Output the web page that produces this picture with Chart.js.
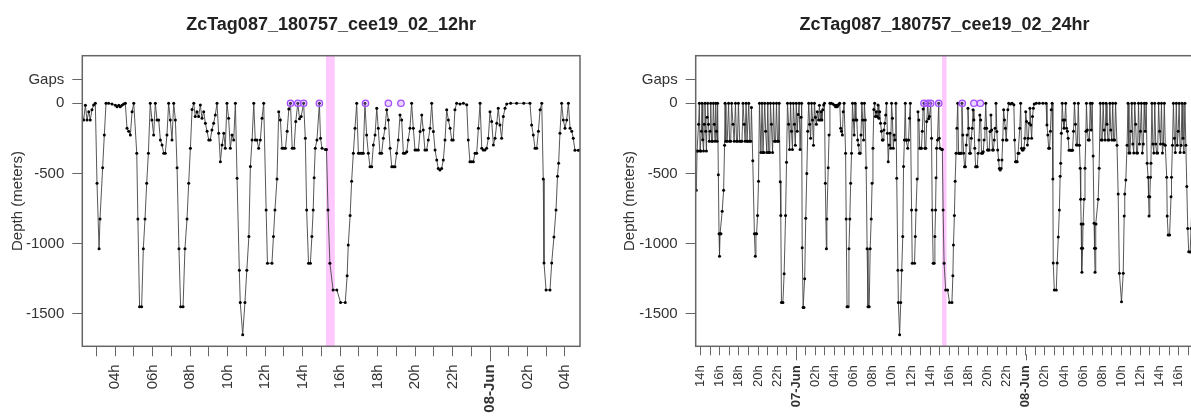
<!DOCTYPE html>
<html>
<head>
<meta charset="utf-8">
<script src="https://cdn.jsdelivr.net/npm/chart.js"></script>
<style>
  html, body { margin: 0; padding: 0; background: #fff; }
  #wrap { position: relative; width: 1191px; height: 418px; overflow: hidden; }
  #wrap canvas { position: absolute; top: 0; }
</style>
</head>
<body>
<div id="wrap">
  <canvas id="chart12" width="595" height="418" style="left:0"></canvas>
  <canvas id="chart24" width="610" height="418" style="left:595px"></canvas>
</div>
<script>
// hours since 07-Jun 00:00, depth in meters
const diveHours = [
  -10.45, -10.38, -10.30, -10.22, -10.14, -10.06, -9.98, -9.92, -9.86, -9.78, -9.70, -9.62, -9.55, -9.47, -9.40,
  -9.33, -9.27, -9.18, -9.10, -9.02, -8.95, -8.86, -8.76, -8.67, -8.58, -8.50, -8.43, -8.35, -8.28, -8.23,
  -8.15, -8.08, -8.03, -7.97, -7.88, -7.75, -7.60, -7.50, -7.45, -7.36, -7.22, -7.08, -6.98, -6.86, -6.76,
  -6.62, -6.50, -6.36, -6.25, -6.15, -6.05, -5.92, -5.80, -5.68, -5.57, -5.45, -5.35, -5.25, -5.15, -5.05,
  -4.97, -4.86, -4.76, -4.69, -4.55, -4.38, -4.29, -4.22, -4.15, -4.05, -3.95, -3.85, -3.70, -3.58, -3.48,
  -3.38, -3.30, -3.20, -3.08, -2.98, -2.88, -2.78, -2.70, -2.60, -2.48, -2.38, -2.28, -2.17, -2.07, -1.96,
  -1.86, -1.79, -1.68, -1.62, -1.55, -1.40, -1.27, -1.12, -1.02, -0.92, -0.80, -0.70, -0.60, -0.50, -0.40,
  -0.30, -0.20, -0.10, 0.00, 0.10, 0.20, 0.30, 0.40, 0.50, 0.56, 0.62, 0.72, 0.80, 0.88, 0.99,
  1.10, 1.20, 1.30, 1.40, 1.50, 1.60, 1.70, 1.80, 1.90, 2.00, 2.10, 2.20,
  2.33, 2.42, 2.51, 2.60, 2.68, 2.77, 2.86, 2.95, 3.04, 3.15, 3.20, 3.34, 3.43, 3.52, 3.66,
  3.84, 4.02, 4.11, 4.20, 4.28, 4.37, 4.46, 4.55, 4.64, 4.73, 4.82, 4.91, 5.00, 5.16, 5.22,
  5.31, 5.42, 5.51, 5.60, 5.69, 5.78, 5.88, 5.97, 6.06, 6.15, 6.24, 6.33, 6.42, 6.51, 6.60,
  6.68, 6.77, 6.86, 6.95, 7.04, 7.13, 7.22, 7.31, 7.41, 7.50, 7.63, 7.73, 7.84, 7.93, 8.02,
  8.11, 8.20, 8.28, 8.37, 8.46, 8.55, 8.64, 8.73, 8.82, 8.91, 9.00, 9.08, 9.17, 9.26, 9.35,
  9.44, 9.53, 9.62, 9.71, 9.80, 9.88, 9.97, 10.06, 10.15, 10.24, 10.33, 10.42, 10.51, 10.63, 10.68,
  10.81, 10.93, 11.03, 11.14, 11.22, 11.31, 11.40, 11.48, 11.57, 11.66, 11.75, 11.84, 11.93, 12.06, 12.13,
  12.37, 12.45, 12.53, 12.64, 12.73, 12.82, 12.91, 13.00, 13.09, 13.18, 13.27, 13.36, 13.45, 13.55, 13.64,
  13.75, 13.84, 13.93, 14.06, 14.15, 14.22, 14.32, 14.42, 14.50, 14.57, 14.62, 14.68, 14.77, 14.90, 14.96,
  15.04, 15.22, 15.28, 15.36, 15.46, 15.63, 15.83, 16.03, 16.28, 16.38, 16.44, 16.54, 16.62, 16.71, 16.80,
  16.89, 16.98, 17.07, 17.16, 17.24, 17.33, 17.42, 17.51, 17.60, 17.69, 17.78, 17.87, 17.96, 18.04, 18.13,
  18.22, 18.31, 18.40, 18.49, 18.58, 18.67, 18.76, 18.84, 18.93, 19.02, 19.11, 19.20, 19.29, 19.38, 19.47,
  19.56, 19.64, 19.73, 19.82, 19.91, 20.00, 20.09, 20.18, 20.27, 20.36, 20.44, 20.53, 20.62, 20.71, 20.80,
  20.89, 20.98, 21.07, 21.16, 21.24, 21.33, 21.42, 21.51, 21.60, 21.69, 21.78, 21.87, 21.96, 22.04, 22.13,
  22.22, 22.40, 22.58, 22.76, 22.84, 22.93, 23.02, 23.11, 23.20, 23.29, 23.38, 23.47, 23.56, 23.64, 23.73,
  23.82, 23.91, 24.00, 24.09, 24.18, 24.27, 24.36, 24.44, 24.53, 24.62, 24.71, 24.80, 24.89, 25.10, 25.42,
  25.80, 26.13, 26.22, 26.31, 26.40, 26.49, 26.58, 26.67, 26.76, 26.84, 26.88, 26.99, 27.20, 27.29, 27.41,
  27.52, 27.60, 27.66, 27.73, 27.82, 27.91, 28.00, 28.09, 28.18, 28.27, 28.36, 28.44, 28.53, 28.71, 28.80,
  28.90, 29.00, 29.10, 29.20, 29.30, 29.40, 29.50, 29.62, 29.70, 29.75, 29.80, 29.83, 29.88, 29.95, 30.00,
  30.10, 30.20, 30.30, 30.35, 30.45, 30.55, 30.65, 30.75, 30.85, 30.95, 31.05, 31.15, 31.20, 31.25, 31.30,
  31.35, 31.58, 31.68, 31.80, 31.90, 32.00, 32.10, 32.20, 32.30, 32.40, 32.50, 32.60, 32.70, 32.80, 32.90,
  33.00, 33.10, 33.20, 33.30, 33.40, 33.55, 33.67, 33.80, 34.02, 34.20, 34.30, 34.36, 34.47, 34.60, 34.70,
  34.80, 34.90, 35.00, 35.10, 35.20, 35.30, 35.40, 35.50, 35.60, 35.70, 35.80, 35.90, 36.00, 36.10, 36.20,
  36.30, 36.40, 36.50, 36.60, 36.70, 36.80, 36.85, 36.90, 36.98, 37.05, 37.10, 37.20, 37.30, 37.40, 37.50,
  37.60, 37.70, 37.80, 37.90, 38.00, 38.10, 38.20, 38.30, 38.40, 38.50, 38.60, 38.75, 38.80, 38.90, 39.05,
  39.20, 39.25, 39.35, 39.45, 39.55, 39.65, 39.75, 39.85, 39.95, 40.05, 40.15, 40.25, 40.35, 40.45, 40.55,
  40.65, 40.75, 40.85, 40.95, 41.05, 41.20, 41.30, 41.45, 41.60
];
const diveDepth = [
  -620, -340, -340, -150, 0, -340, -340, -200, 0, -260, -340, -150, 0, -200, -340,
  -100, 0, -150, -270, -200, 0, -270, -270, 0, -150, -270, 0, -200, -270, 0,
  -510, -930, -1090, -930, -930, -770, -620, -300, 0, -270, -270, 0, -270, -270, 0,
  -150, -270, 0, -270, -270, 0, -270, -270, -270, 0, -150, -270, 0, -270, -270,
  0, -270, -270, -30, -410, -930, -1090, -930, -930, -800, -555, 0, -350, 0, -350,
  -350, 0, -200, -350, 0, -350, -350, 0, -150, -350, 0, -270, -270, 0, -270,
  -270, 0, -560, -800, -1420, -1420, -1215, -800, -420, 0, -150, -330, 0, -200, -330,
  0, -150, -300, 0, -200, -80, 0, -330, -100, 0, -1030, -1455, -1455, -1250, -820,
  -500, -200, 0, -150, -250, 0, -120, -300, 0, -100, -150, -60,
  -119, -15, -119, -60, -119, -47, -12, 0, -570, -1036, -825, -460, -226, 0, 0,
  -5, -15, -25, -15, -25, -15, -5, 0, -178, -200, -226, -60, 0, -357, -825,
  -1450, -1450, -1036, -825, -570, -357, 0, -119, -226, 0, -119, -119, -262, -297, -357,
  -357, -226, 0, -119, -262, 0, -119, -460, -1036, -1450, -1450, -1036, -825, -570, -321,
  -45, 0, -95, -60, -95, -12, -107, -60, -143, -200, -262, -262, -190, -143, -83,
  0, -214, -416, -297, -214, -321, 0, -107, -321, -226, -262, 0, -535, -1190, -1420,
  -1650, -1420, -1190, -950, -450, -262, 0, -262, -262, -321, -262, -107, 0, -760, -1140,
  -1140, -950, -760, -540, -60, -120, -321, -321, -321, -200, -40, 0, -321, -321, -130,
  0, -110, -95, 0, -250, -760, -1140, -1140, -950, -760, -530, -321, -262, 0, -250,
  -321, -330, -330, -760, -1140, -1330, -1330, -1420, -1420, -1230, -1010, -800, -556, -357, -178,
  0, -357, -357, -357, -357, 0, -226, -357, -452, -452, -297, -226, -35, -178, -357,
  -357, -250, -178, -47, -119, -321, -452, -452, -452, -357, -262, -83, -119, -357, -357,
  -345, -262, -178, 0, -178, -333, -333, -333, -202, -83, -190, -333, -333, -262, -178,
  0, -202, -333, -405, -464, -476, -464, -405, -262, -47, -119, -178, -262, -262, -47,
  0, -5, 0, -10, -262, -416, -416, -416, -357, -357, -178, 0, -321, -333, -333,
  -321, -250, -60, -130, -297, -250, -143, -35, -155, -250, -95, -35, -5, 0, 0,
  0, 0, -154, -226, -321, -321, -200, -47, 0, -540, -1138, -1330, -1330, -1138, -953,
  -760, -520, -428, -214, 0, -119, -178, -119, 0, -178, -200, -250, -335, -335, -335,
  -335, -200, 0, -150, -297, -297, 0, -300, -463, -684, -860, -1034, -1205, -1034, -860,
  -684, -463, -200, 0, -190, -262, -262, 0, -190, 0, -376, -855, -1034, -1205, -1034,
  -860, -684, -463, 0, -262, -262, 0, -190, -262, 0, -150, -262, -262, 0, -190,
  -262, 0, -262, -262, 0, -300, -646, -1212, -1414, -1212, -803, -646, -547, -300, 0,
  -355, -355, -200, 0, -290, -355, 0, -150, -355, -355, 0, -290, -200, 0, -355,
  -290, 0, -200, 0, -428, -527, -666, -803, -666, -527, -428, 0, -290, -355, 0,
  -290, -355, -355, 0, -200, -290, 0, -355, -290, 0, -300, -527, -803, -939, -939,
  -666, -527, -300, 0, -250, -350, 0, -300, -200, 0, -350, -300, 0, -250, -350,
  0, -300, -594, -893, -1058, -1060, -893, -594, -300
];
const gapHours = [13.36, 13.75, 14.06, 14.9, 17.36, 18.58, 19.25];
const gapLevel = 170;
const shadeHours = [15.25, 15.72];
const yTickValues = [-1500, -1000, -500, 0, gapLevel];
const dayLabels = ['06-Jun', '07-Jun', '08-Jun'];

const FONT = "'Liberation Sans', Arial, Helvetica, sans-serif";

const overlayPlugin = {
  id: 'overlay',
  beforeDatasetsDraw(chart) {
    const { ctx, chartArea: a, scales: { x } } = chart;
    const x0 = Math.max(x.getPixelForValue(shadeHours[0]), a.left);
    const x1 = Math.min(x.getPixelForValue(shadeHours[1]), a.right);
    ctx.save();
    ctx.fillStyle = '#ffc8ff';
    ctx.fillRect(x0, a.top, x1 - x0, a.bottom - a.top);
    ctx.restore();
  },
  afterDraw(chart) {
    const { ctx, chartArea: a, scales: { x } } = chart;
    const tl = x.options.grid.tickLength;
    ctx.save();
    ctx.strokeStyle = '#666';
    ctx.lineWidth = 1.5;
    ctx.strokeRect(a.left, a.top, a.right - a.left, a.bottom - a.top);
    // day boundaries get a longer tick
    ctx.lineWidth = 1;
    x.ticks.forEach(t => {
      if (t.value % 24 !== 0) return;
      const px = Math.round(x.getPixelForValue(t.value)) + 0.5;
      ctx.beginPath();
      ctx.moveTo(px, a.bottom + tl - 1);
      ctx.lineTo(px, a.bottom + tl + 5);
      ctx.stroke();
    });
    ctx.restore();
  }
};

function hourLabel(v) {
  const hr = ((v % 24) + 24) % 24;
  if (hr === 0) return dayLabels[Math.round(v / 24) + 1];
  return hr % 2 === 0 ? String(hr).padStart(2, '0') + 'h' : '';
}

function makeChart(id, opt) {
  const points = diveHours.map((h, i) => ({ x: h, y: diveDepth[i] }));
  const gaps = gapHours.map(h => ({ x: h, y: 0 }));
  return new Chart(document.getElementById(id), {
    type: 'line',
    data: {
      datasets: [
        {
          data: gaps,
          showLine: false,
          pointRadius: 3.2,
          pointBorderWidth: 1.3,
          pointBorderColor: '#a64dff',
          pointBackgroundColor: 'rgba(190,140,255,0.35)'
        },
        {
          data: points,
          borderColor: '#444',
          borderWidth: 0.9,
          pointRadius: 1.5,
          pointBorderWidth: 0,
          pointBackgroundColor: '#000',
          tension: 0
        }
      ]
    },
    options: {
      responsive: false,
      animation: false,
      devicePixelRatio: 1,
      layout: { padding: { left: 0, right: opt.padRight, top: 0, bottom: 0 } },
      plugins: {
        legend: { display: false },
        tooltip: { enabled: false },
        title: {
          display: true,
          text: opt.title,
          fullSize: false,
          color: '#222',
          font: { family: FONT, size: 18, weight: 'bold' },
          padding: { top: 14, bottom: 20.1 }
        }
      },
      scales: {
        x: {
          type: 'linear',
          min: opt.xMin,
          max: opt.xMax,
          afterBuildTicks(scale) {
            const t = [];
            for (let h = Math.ceil(scale.min); h <= scale.max; h++) t.push({ value: h });
            scale.ticks = t;
          },
          afterFit(scale) {
            scale.height = 418 - 346.3;
            scale.paddingLeft = 0;
            scale.paddingRight = 0;
          },
          grid: { drawOnChartArea: false, drawTicks: true, tickLength: opt.tickLen, color: '#666', tickColor: '#666' },
          border: { display: false },
          ticks: {
            autoSkip: false,
            maxRotation: 90,
            minRotation: 90,
            padding: opt.xPad,
            color: '#333',
            font: (ctx) => ({
              family: FONT,
              size: opt.xFont,
              weight: ctx.tick && ctx.tick.value % 24 === 0 ? 'bold' : 'normal'
            }),
            callback: (v) => hourLabel(v)
          }
        },
        y: {
          type: 'linear',
          min: -1732,
          max: 339,
          afterBuildTicks(scale) { scale.ticks = yTickValues.map(v => ({ value: v })); },
          afterFit(scale) { scale.width = opt.yWidth; },
          grid: { drawOnChartArea: false, drawTicks: true, tickLength: 10, color: '#666', tickColor: '#666' },
          border: { display: false },
          ticks: {
            padding: 8,
            color: '#333',
            font: { family: FONT, size: 15 },
            callback: (v) => v === gapLevel ? 'Gaps' : String(v)
          },
          title: {
            display: true,
            text: 'Depth (meters)',
            color: '#333',
            font: { family: FONT, size: 15 },
            padding: { top: opt.yTitlePad, bottom: 0 }
          }
        }
      }
    },
    plugins: [overlayPlugin]
  });
}

makeChart('chart12', {
  title: 'ZcTag087_180757_cee19_02_12hr',
  xMin: 2.256, xMax: 28.8,
  yWidth: 82.3, padRight: 15, yTitlePad: 8.5,
  tickLen: 10, xPad: 8, xFont: 15
});
makeChart('chart24', {
  title: 'ZcTag087_180757_cee19_02_24hr',
  xMin: -10.52, xMax: 41.54,
  yWidth: 100.7, padRight: 11.6, yTitlePad: 26,
  tickLen: 9, xPad: 10, xFont: 13
});
</script>
</body>
</html>
